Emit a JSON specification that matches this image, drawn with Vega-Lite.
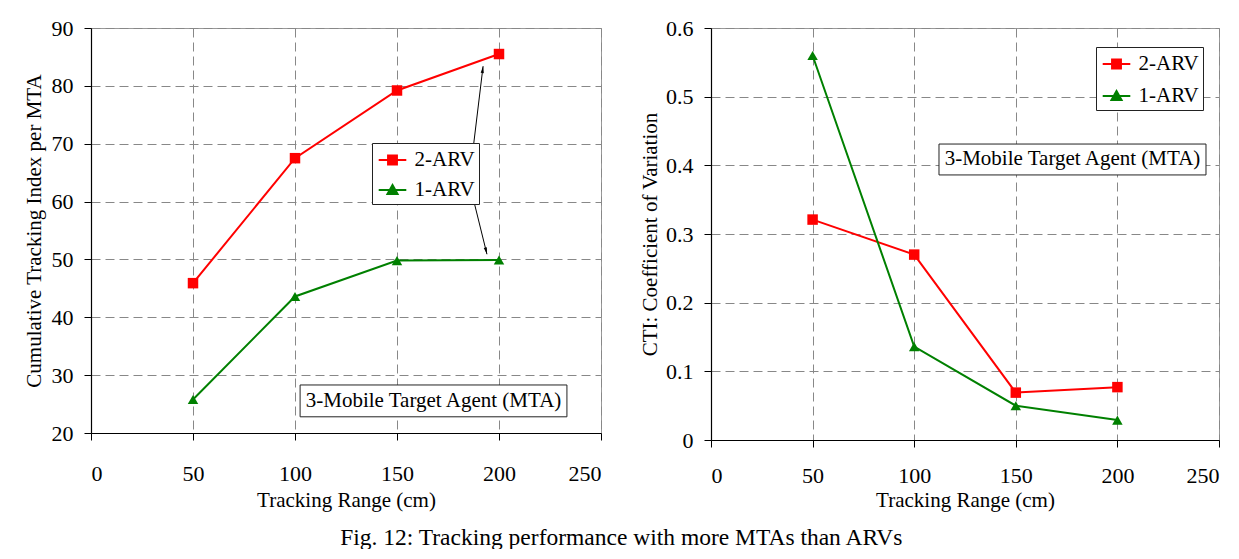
{
  "$schema": "https://vega.github.io/schema/vega-lite/v6.json",
  "padding": {"left": 22, "top": 16, "right": 0, "bottom": 0},
  "background": "white",
  "datasets": {
    "left": [
      {"range": 50, "series": "2-ARV", "value": 45.9},
      {"range": 100, "series": "2-ARV", "value": 67.5},
      {"range": 150, "series": "2-ARV", "value": 79.2},
      {"range": 200, "series": "2-ARV", "value": 85.5},
      {"range": 50, "series": "1-ARV", "value": 25.8},
      {"range": 100, "series": "1-ARV", "value": 43.6},
      {"range": 150, "series": "1-ARV", "value": 49.8},
      {"range": 200, "series": "1-ARV", "value": 49.9}
    ],
    "right": [
      {"range": 50, "series": "2-ARV", "value": 0.321},
      {"range": 100, "series": "2-ARV", "value": 0.270},
      {"range": 150, "series": "2-ARV", "value": 0.069},
      {"range": 200, "series": "2-ARV", "value": 0.077},
      {"range": 50, "series": "1-ARV", "value": 0.560},
      {"range": 100, "series": "1-ARV", "value": 0.136},
      {"range": 150, "series": "1-ARV", "value": 0.050},
      {"range": 200, "series": "1-ARV", "value": 0.029}
    ]
  },
  "title": {
    "text": "Fig. 12: Tracking performance with more MTAs than ARVs",
    "orient": "bottom",
    "anchor": "middle",
    "fontSize": 23.5,
    "font": "Liberation Serif",
    "fontWeight": "normal",
    "color": "black",
    "offset": 15
  },
  "spacing": 37,
  "resolve": {
    "scale": {"fill": "independent", "stroke": "independent", "shape": "independent"},
    "legend": {"fill": "independent", "stroke": "independent", "shape": "independent"}
  },
  "config": {
    "font": "Liberation Serif",
    "view": {"stroke": "#999999", "strokeWidth": 1},
    "axis": {
      "labelFont": "Liberation Serif",
      "titleFont": "Liberation Serif",
      "labelFontSize": 22,
      "titleFontSize": 21,
      "titleFontWeight": "normal",
      "labelColor": "black",
      "titleColor": "black",
      "domainColor": "black",
      "domainWidth": 1.2,
      "tickColor": "black",
      "tickSize": 7,
      "gridColor": "#888888",
      "gridDash": [9, 5],
      "gridWidth": 1
    },
    "legend": {
      "labelFont": "Liberation Serif",
      "labelFontSize": 21,
      "labelColor": "black"
    }
  },
  "hconcat": [
    {
      "width": 510,
      "height": 405,
      "data": {"name": "left"},
      "encoding": {
        "x": {"field": "range", "type": "quantitative",
              "scale": {"domain": [0, 250], "nice": false},
              "axis": {"values": [0, 50, 100, 150, 200, 250], "title": "Tracking Range (cm)", "labelPadding": 23, "titlePadding": 5}},
        "y": {"field": "value", "type": "quantitative",
              "scale": {"domain": [20, 90], "nice": false, "zero": false},
              "axis": {"values": [20, 30, 40, 50, 60, 70, 80, 90], "title": "Cumulative Tracking Index per MTA", "labelPadding": 11, "titlePadding": 7}}
      },
      "layer": [
        {
          "transform": [{"filter": "datum.range == 50 && datum.series == '2-ARV'"}],
          "mark": {"type": "rect", "fill": "white", "stroke": "#222222", "strokeWidth": 1},
          "encoding": {
            "x": {"datum": 102.5, "type": "quantitative"},
            "x2": {"datum": 233.3},
            "y": {"datum": 28.3, "type": "quantitative"},
            "y2": {"datum": 22.8}
          }
        },
        {
          "transform": [{"filter": "datum.range == 50 && datum.series == '2-ARV'"}],
          "mark": {"type": "text", "fontSize": 21, "font": "Liberation Serif", "color": "black", "align": "center", "baseline": "middle"},
          "encoding": {
            "x": {"datum": 167.9, "type": "quantitative"},
            "y": {"datum": 25.5, "type": "quantitative"},
            "text": {"value": "3-Mobile Target Agent (MTA)"}
          }
        },
        {
          "transform": [{"filter": "datum.range == 50 && datum.series == '2-ARV'"}],
          "mark": {"type": "rule", "color": "black", "strokeWidth": 1},
          "encoding": {
            "x": {"datum": 187.3, "type": "quantitative"},
            "y": {"datum": 69.1, "type": "quantitative"},
            "x2": {"datum": 192.2},
            "y2": {"datum": 83.4}
          }
        },
        {
          "transform": [{"filter": "datum.range == 50 && datum.series == '2-ARV'"}],
          "mark": {"type": "rule", "color": "black", "strokeWidth": 1},
          "encoding": {
            "x": {"datum": 187.3, "type": "quantitative"},
            "y": {"datum": 60.6, "type": "quantitative"},
            "x2": {"datum": 194.1},
            "y2": {"datum": 50.9}
          }
        },
        {
          "transform": [{"filter": "datum.range == 50 && datum.series == '2-ARV'"}],
          "mark": {"type": "point", "shape": "M0,0L0.4,1.7L-0.4,1.7Z", "filled": true, "color": "black", "size": 64, "angle": 7, "opacity": 1},
          "encoding": {
            "x": {"datum": 192.2, "type": "quantitative"},
            "y": {"datum": 83.4, "type": "quantitative"}
          }
        },
        {
          "transform": [{"filter": "datum.range == 50 && datum.series == '2-ARV'"}],
          "mark": {"type": "point", "shape": "M0,0L0.4,1.7L-0.4,1.7Z", "filled": true, "color": "black", "size": 64, "angle": 166, "opacity": 1},
          "encoding": {
            "x": {"datum": 194.1, "type": "quantitative"},
            "y": {"datum": 50.9, "type": "quantitative"}
          }
        },
        {
          "mark": {"type": "line", "strokeWidth": 2},
          "encoding": {
            "detail": {"field": "series", "type": "nominal"},
            "color": {"condition": {"test": "datum.series == '2-ARV'", "value": "#FF0000"}, "value": "#008000"}
          }
        },
        {
          "mark": {"type": "point", "filled": true, "size": 110, "opacity": 1},
          "encoding": {
            "color": {"condition": {"test": "datum.series == '2-ARV'", "value": "#FF0000"}, "value": "#008000"},
            "shape": {"condition": {"test": "datum.series == '2-ARV'", "value": "square"}, "value": "triangle-up"}
          }
        },
        {
          "transform": [{"filter": "false"}],
          "mark": {"type": "point", "filled": true, "opacity": 1, "strokeWidth": 2},
          "encoding": {
            "fill": {"field": "series", "type": "nominal", "scale": {"domain": ["2-ARV", "1-ARV"], "range": ["#FF0000", "#008000"]},
              "legend": {
                "orient": "none", "legendX": 281, "legendY": 115, "title": null,
                "strokeColor": "#222222", "fillColor": "white", "padding": 4,
                "symbolSize": 576, "symbolStrokeWidth": 2, "symbolOpacity": 1, "symbolOffset": 3.5,
                "labelOffset": 9, "rowPadding": 7
              }},
            "stroke": {"field": "series", "type": "nominal", "scale": {"domain": ["2-ARV", "1-ARV"], "range": ["#FF0000", "#008000"]}, "legend": {"title": null}},
            "shape": {"field": "series", "type": "nominal", "scale": {"domain": ["2-ARV", "1-ARV"], "range": ["M-1.15,0H1.15M-0.37,-0.37H0.37V0.37H-0.37Z", "M-1.15,0H1.15M0,-0.42L0.42,0.33H-0.42Z"]}, "legend": {"title": null}}
          }
        }
      ]
    },
    {
      "width": 508,
      "height": 412,
      "data": {"name": "right"},
      "encoding": {
        "x": {"field": "range", "type": "quantitative",
              "scale": {"domain": [0, 250], "nice": false},
              "axis": {"values": [0, 50, 100, 150, 200, 250], "title": "Tracking Range (cm)", "labelPadding": 18, "titlePadding": 3}},
        "y": {"field": "value", "type": "quantitative",
              "scale": {"domain": [0, 0.6], "nice": false},
              "axis": {"values": [0, 0.1, 0.2, 0.3, 0.4, 0.5, 0.6], "labelExpr": "datum.value == 0 ? '0' : format(datum.value, '.1f')", "title": "CTI: Coefficient of Variation", "labelPadding": 11, "titlePadding": 5}}
      },
      "layer": [
        {
          "transform": [{"filter": "datum.range == 50 && datum.series == '2-ARV'"}],
          "mark": {"type": "rect", "fill": "white", "stroke": "#222222", "strokeWidth": 1},
          "encoding": {
            "x": {"datum": 112.2, "type": "quantitative"},
            "x2": {"datum": 243.6},
            "y": {"datum": 0.431, "type": "quantitative"},
            "y2": {"datum": 0.386}
          }
        },
        {
          "transform": [{"filter": "datum.range == 50 && datum.series == '2-ARV'"}],
          "mark": {"type": "text", "fontSize": 21, "font": "Liberation Serif", "color": "black", "align": "center", "baseline": "middle"},
          "encoding": {
            "x": {"datum": 177.9, "type": "quantitative"},
            "y": {"datum": 0.4085, "type": "quantitative"},
            "text": {"value": "3-Mobile Target Agent (MTA)"}
          }
        },
        {
          "mark": {"type": "line", "strokeWidth": 2},
          "encoding": {
            "detail": {"field": "series", "type": "nominal"},
            "color": {"condition": {"test": "datum.series == '2-ARV'", "value": "#FF0000"}, "value": "#008000"}
          }
        },
        {
          "mark": {"type": "point", "filled": true, "size": 110, "opacity": 1},
          "encoding": {
            "color": {"condition": {"test": "datum.series == '2-ARV'", "value": "#FF0000"}, "value": "#008000"},
            "shape": {"condition": {"test": "datum.series == '2-ARV'", "value": "square"}, "value": "triangle-up"}
          }
        },
        {
          "transform": [{"filter": "false"}],
          "mark": {"type": "point", "filled": true, "opacity": 1, "strokeWidth": 2},
          "encoding": {
            "fill": {"field": "series", "type": "nominal", "scale": {"domain": ["2-ARV", "1-ARV"], "range": ["#FF0000", "#008000"]},
              "legend": {
                "orient": "none", "legendX": 385, "legendY": 19, "title": null,
                "strokeColor": "#222222", "fillColor": "white", "padding": 4,
                "symbolSize": 576, "symbolStrokeWidth": 2, "symbolOpacity": 1, "symbolOffset": 3.5,
                "labelOffset": 9, "rowPadding": 9
              }},
            "stroke": {"field": "series", "type": "nominal", "scale": {"domain": ["2-ARV", "1-ARV"], "range": ["#FF0000", "#008000"]}, "legend": {"title": null}},
            "shape": {"field": "series", "type": "nominal", "scale": {"domain": ["2-ARV", "1-ARV"], "range": ["M-1.15,0H1.15M-0.37,-0.37H0.37V0.37H-0.37Z", "M-1.15,0H1.15M0,-0.42L0.42,0.33H-0.42Z"]}, "legend": {"title": null}}
          }
        }
      ]
    }
  ]
}
